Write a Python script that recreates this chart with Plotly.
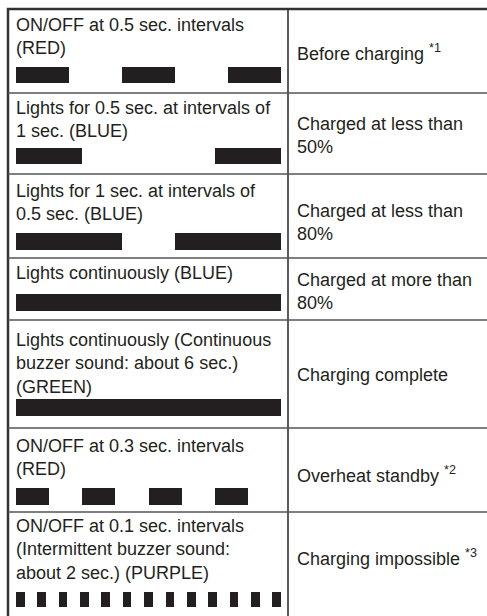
import plotly.graph_objects as go
import numpy as np

# ---------------- data ----------------
left_labels = [
    "ON/OFF at 0.5 sec. intervals<br>(RED)",
    "Lights for 0.5 sec. at intervals of<br>1 sec. (BLUE)",
    "Lights for 1 sec. at intervals of<br>0.5 sec. (BLUE)",
    "Lights continuously (BLUE)",
    "Lights continuously (Continuous<br>buzzer sound: about 6 sec.)<br>(GREEN)",
    "ON/OFF at 0.3 sec. intervals<br>(RED)",
    "ON/OFF at 0.1 sec. intervals<br>(Intermittent buzzer sound:<br>about 2 sec.) (PURPLE)",
]
right_labels = [
    "Before charging <sup>*1</sup>",
    "Charged at less than<br>50%",
    "Charged at less than<br>80%",
    "Charged at more than<br>80%",
    "Charging complete",
    "Overheat standby <sup>*2</sup>",
    "Charging impossible <sup>*3</sup>",
]
# alternating ON / OFF durations (seconds), starting with ON
timing_red_05 = [0.5, 0.5, 0.5, 0.5, 0.5]
timing_blue_low = [0.5, 1.0, 0.5]
timing_blue_mid = [1.0, 0.5, 1.0]
timing_blue_high = [2.5]
timing_green = [2.5]
timing_red_03 = [0.3, 0.3, 0.3, 0.3, 0.3, 0.3, 0.3, 0.3]
timing_purple = [0.08, 0.12, 0.08, 0.12, 0.08, 0.12, 0.08, 0.12, 0.08, 0.12,
                 0.08, 0.12, 0.08, 0.12, 0.08, 0.12, 0.08, 0.12, 0.08, 0.12,
                 0.08, 0.12, 0.08, 0.12, 0.08]
timings = [timing_red_05, timing_blue_low, timing_blue_mid, timing_blue_high,
           timing_green, timing_red_03, timing_purple]

# ---------------- layout geometry (pixels) ----------------
W, H = 487, 616
row_tops = [9, 93, 174, 258, 320, 428, 512]
text_tops = [14, 97, 180, 262, 329, 435, 515]
bar_top = [67, 148, 233, 294, 399, 488, 592]
bar_h = [16, 16, 17, 17, 17, 17, 15]
right_mid = [52, 135, 222, 291, 375, 474, 557]
col_x = 288
left_x = 8
bar_x0, bar_x1 = 16, 281

ink = "#231f20"
font = "Liberation Sans, Arial, Helvetica, sans-serif"
fs = 18

fig = go.Figure()

for i, t in enumerate(timings):
    t = np.array(t, dtype=float)
    starts = np.concatenate([[0], np.cumsum(t)[:-1]])
    on = np.arange(len(t)) % 2 == 0
    ax = f"x{i + 2}"
    yc = bar_top[i] + bar_h[i] / 2
    fig.add_trace(go.Bar(
        x=t[on], base=starts[on], y=[yc] * int(on.sum()),
        orientation="h", width=bar_h[i],
        marker=dict(color=ink, line=dict(width=0)),
        xaxis=ax, yaxis="y", showlegend=False, hoverinfo="skip",
    ))
    fig.update_layout(**{
        f"xaxis{i + 2}": dict(domain=[bar_x0 / W, bar_x1 / W],
                              range=[0, float(t.sum())], anchor="y",
                              visible=False, fixedrange=True)
    })

# grid lines
shapes = []
shapes.append(dict(type="line", xref="x", yref="y", x0=left_x - 1, x1=W + 5,
                   y0=9, y1=9, line=dict(color="#333333", width=2.5)))
shapes.append(dict(type="line", xref="x", yref="y", x0=left_x, x1=left_x,
                   y0=8, y1=H + 5, line=dict(color="#333333", width=2.5)))
shapes.append(dict(type="line", xref="x", yref="y", x0=col_x, x1=col_x,
                   y0=9, y1=H + 5, line=dict(color="#333333", width=1.6)))
for yv in row_tops[1:]:
    shapes.append(dict(type="line", xref="x", yref="y", x0=left_x, x1=W + 5,
                       y0=yv, y1=yv, line=dict(color="#555555", width=1.3)))

annotations = []
for i in range(len(left_labels)):
    annotations.append(dict(
        x=bar_x0 - 1, y=text_tops[i], xref="x", yref="y", xanchor="left",
        yanchor="top", align="left", showarrow=False, text=left_labels[i],
        font=dict(family=font, size=fs, color=ink), borderpad=0))
    annotations.append(dict(
        x=col_x + 8, y=right_mid[i], xref="x", yref="y", xanchor="left",
        yanchor="middle", align="left", showarrow=False, text=right_labels[i],
        font=dict(family=font, size=fs, color=ink), borderpad=0))

fig.update_layout(
    width=W, height=H, margin=dict(l=0, r=0, t=0, b=0),
    paper_bgcolor="white", plot_bgcolor="rgba(0,0,0,0)",
    barmode="overlay", bargap=0,
    xaxis=dict(range=[0, W], visible=False, domain=[0, 1], fixedrange=True),
    yaxis=dict(range=[H, 0], visible=False, domain=[0, 1], fixedrange=True),
    shapes=shapes, annotations=annotations,
)

fig.write_html(
    "out.html",
    config={"displayModeBar": False},
    post_script="document.body.style.margin='0';document.body.style.overflow='hidden';",
)
